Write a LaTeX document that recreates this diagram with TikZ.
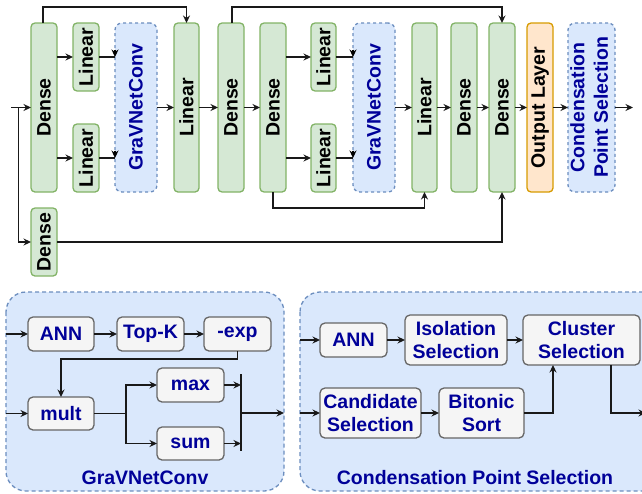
\documentclass[tikz,border=0pt]{standalone}
\usepackage{fontspec}
\setmainfont{Liberation Sans}
\usetikzlibrary{arrows.meta,calc}
\definecolor{gfill}{HTML}{D5E8D4}\definecolor{gline}{HTML}{82B366}
\definecolor{ofill}{HTML}{FFE6CC}\definecolor{oline}{HTML}{D79B00}
\definecolor{bfill}{HTML}{DAE8FC}\definecolor{bline}{HTML}{6C8EBF}
\definecolor{kfill}{HTML}{F5F5F5}\definecolor{kline}{HTML}{666666}
\definecolor{navy}{HTML}{000099}
\tikzset{
  box/.style={rounded corners=4pt, line width=1.3pt, align=center, inner sep=0pt, outer sep=0pt},
  greenbox/.style={box, draw=gline, fill=gfill},
  orangebox/.style={box, draw=oline, fill=ofill},
  dashbox/.style={box, draw=bline, fill=bfill, dash pattern=on 3pt off 3pt, text=navy, rounded corners=7pt},
  graybox/.style={box, draw=kline, fill=kfill, text=navy, rounded corners=5pt},
  panel/.style={draw=bline, fill=bfill, dash pattern=on 4pt off 3pt, line width=1.3pt, rounded corners=20pt},
  wire/.style={line width=1.3pt, draw=black!90},
  arr/.style={wire, -{Stealth[length=7.5pt,width=7pt]}},
  dtip/.style={-{Stealth[length=7.5pt,width=7pt]}, line width=1.3pt},
}
% tall block: style, name, centre, width, height, text
\newcommand\blk[6]{\node[#1, minimum width=#4, minimum height=#5] (#2) at (#3) {\rotatebox{90}{#6}};}
\begin{document}
\begin{tikzpicture}[x=1pt, y=-1pt, font=\fontsize{19.5}{23.5}\selectfont\bfseries]
\useasboundingbox (0,0) rectangle (642,493);
\clip (0,0) rectangle (642,493);

% ---------- top: network pipeline ----------
\blk{greenbox}{d1}{44,107.5}{26}{169}{Dense}
\blk{greenbox}{l1a}{86,57}{26}{68}{Linear}
\blk{greenbox}{l1b}{86,158}{26}{68}{Linear}
\blk{dashbox}{g1}{136,107.5}{42}{169}{GraVNetConv}
\blk{greenbox}{l2}{186.5,107.5}{25}{169}{Linear}
\blk{greenbox}{d2}{231,107.5}{26}{169}{Dense}
\blk{greenbox}{d3}{273,107.5}{26}{169}{Dense}
\blk{greenbox}{l3a}{323.5,57}{25}{68}{Linear}
\blk{greenbox}{l3b}{323.5,158}{25}{68}{Linear}
\blk{dashbox}{g2}{374,107.5}{42}{169}{GraVNetConv}
\blk{greenbox}{l4}{424.5,107.5}{25}{169}{Linear}
\blk{greenbox}{d4}{464,107.5}{26}{169}{Dense}
\blk{greenbox}{d5}{502,107.5}{26}{169}{Dense}
\blk{orangebox}{out}{540,107.5}{26}{169}{Output Layer}
\blk{dashbox}{cps}{591.5,107.5}{43}{169}{\begin{tabular}{@{}c@{}}Condensation\\Point Selection\end{tabular}}
\blk{greenbox}{ds}{44,242}{26}{68}{Dense}

\coordinate (in) at (11,107.5);
\coordinate (split) at (18.5,107.5);
\coordinate (res) at (633,107.5);
\coordinate (skipA) at (43,7);
\coordinate (skipB) at (232,7);
\coordinate (skipC) at (273,208);

\draw[arr] (in) -- (d1.west);
\draw[arr] (split) |- (ds.west);
\draw[arr] (d1.north -| skipA) -- (skipA) -| (l2.north);
\draw[arr] (d1.east |- l1a.west) -- (l1a.west);
\draw[arr] (d1.east |- l1b.west) -- (l1b.west);
\foreach \s/\g in {l1a/g1, l1b/g1, l3a/g2, l3b/g2}{
  \draw[wire] (\s.east) -- (\s.east -| \g.west);
  \draw[dtip] ($(\s.east -| \g.west)+(0,-7.5)$) -- (\s.east -| \g.west);
}
\draw[arr] (g1) -- (l2);
\draw[arr] (l2) -- (d2);
\draw[arr] (d2) -- (d3);
\draw[arr] (d2.north -| skipB) -- (skipB) -| (d5.north);
\draw[arr] (d3.east |- l3a.west) -- (l3a.west);
\draw[arr] (d3.east |- l3b.west) -- (l3b.west);
\draw[arr] (d3.south) -- (skipC) -| (l4.south);
\draw[arr] (ds.east) -| (d5.south);
\draw[arr] (g2) -- (l4);
\draw[arr] (l4) -- (d4);
\draw[arr] (d4) -- (d5);
\draw[arr] (d5) -- (out);
\draw[arr] (out) -- (cps);
\draw[arr] (cps) -- (res);

% ---------- bottom left: GraVNetConv ----------
\draw[panel] (6,292) rectangle (284,491);
\node[graybox, minimum width=66, minimum height=34] (ann1) at (61,334) {ANN};
\node[graybox, minimum width=67, minimum height=34] (topk) at (150.5,334) {Top-K};
\node[graybox, minimum width=67, minimum height=34] (nexp) at (237.5,334) {-exp};
\node[graybox, minimum width=66, minimum height=33] (mult) at (61,413.5) {mult};
\node[graybox, minimum width=67, minimum height=34] (max) at (190.5,385) {max};
\node[graybox, minimum width=67, minimum height=33] (sum) at (190.5,443.5) {sum};
\node[text=navy] (glabel) at (145,478) {GraVNetConv};
\coordinate (gin1) at (6,334);
\coordinate (gin2) at (6,413.5);
\coordinate (turn) at (237.5,359);
\coordinate (fork) at (126,413.5);
\coordinate (barT) at (241,374);
\coordinate (barB) at (241,451);
\coordinate (gout) at (284,413);

\draw[arr] (gin1) -- (ann1);
\draw[arr] (ann1) -- (topk);
\draw[arr] (topk) -- (nexp);
\draw[arr] (nexp.south) -- (turn) -| (mult.north);
\draw[arr] (gin2) -- (mult);
\draw[wire] (mult.east) -- (fork);
\draw[arr] (fork) |- (max.west);
\draw[arr] (fork) |- (sum.west);
\draw[arr] (max.east) -- (max.east -| barT);
\draw[arr] (sum.east) -- (sum.east -| barT);
\draw[wire] (barT) -- (barB);
\draw[arr] (gout -| barT) -- (gout);

% ---------- bottom right: Condensation Point Selection ----------
\draw[panel] (300,292) rectangle (670,491);
\node[graybox, minimum width=67, minimum height=34] (ann2) at (353.5,340) {ANN};
\node[graybox, minimum width=102, minimum height=50] (iso) at (456,340) {Isolation\\Selection};
\node[graybox, minimum width=117, minimum height=50] (clu) at (581.5,340) {Cluster\\Selection};
\node[graybox, minimum width=101, minimum height=50] (cand) at (370.5,413) {Candidate\\Selection};
\node[graybox, minimum width=85, minimum height=50] (bit) at (481.5,413) {Bitonic\\Sort};
\node[text=navy] (clabel) at (475,478) {Condensation Point Selection};
\coordinate (cin1) at (300,340);
\coordinate (cin2) at (300,413);
\coordinate (cout) at (646,413);

\draw[arr] (cin1) -- (ann2);
\draw[arr] (ann2) -- (iso);
\draw[arr] (iso) -- (clu);
\draw[arr] (cin2) -- (cand);
\draw[arr] (cand) -- (bit);
\draw[arr] (bit.east) -| ([xshift=-28.5pt]clu.south);
\draw[arr] ([xshift=29.5pt]clu.south) |- (cout);
\end{tikzpicture}
\end{document}
